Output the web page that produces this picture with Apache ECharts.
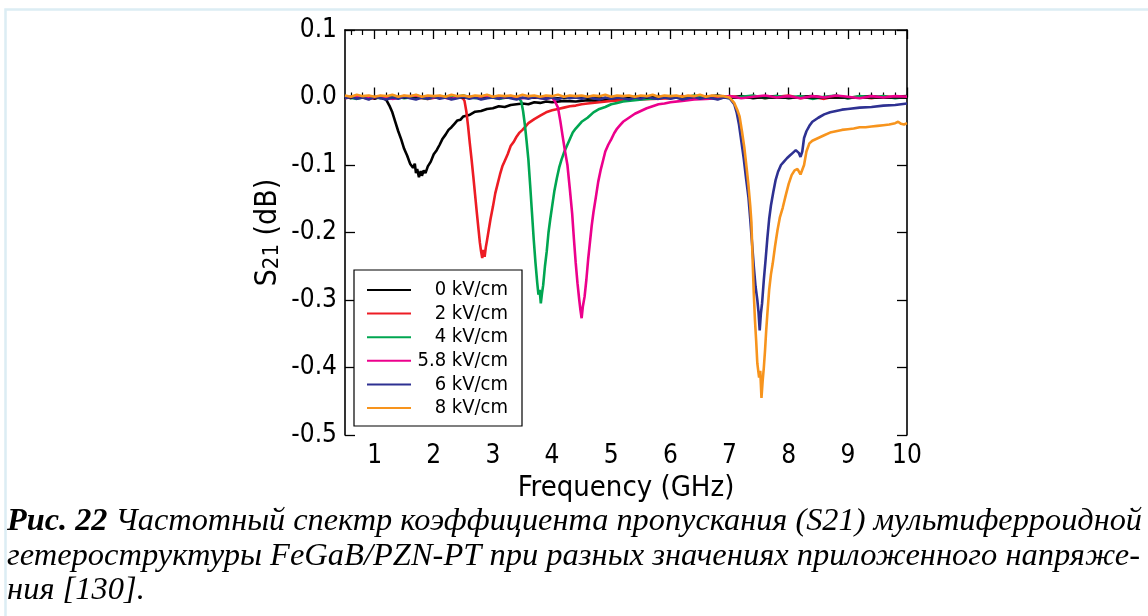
<!DOCTYPE html>
<html>
<head>
<meta charset="utf-8">
<script src="https://cdn.jsdelivr.net/npm/echarts@6/dist/echarts.min.js"></script>
<style>
html,body{margin:0;padding:0;background:#fff;}
#chart{width:1148px;height:616px;}
</style>
</head>
<body>
<div id="chart"></div>
<script>
// ---- data (frequency GHz, S21 dB) ----
const seriesNames = ['0 kV/cm', '2 kV/cm', '4 kV/cm', '5.8 kV/cm', '6 kV/cm', '8 kV/cm'];
const seriesColors = ['#000000', '#ed1c24', '#00a651', '#ec008c', '#2e3192', '#f7941d'];
const xMajorTicks = [1, 2, 3, 4, 5, 6, 7, 8, 9, 10];
const xMinorTicks = [0.6, 0.8, 1.2, 1.4, 1.6, 1.8, 2.2, 2.4, 2.6, 2.8, 3.2, 3.4, 3.6, 3.8, 4.2, 4.4, 4.6, 4.8,
  5.2, 5.4, 5.6, 5.8, 6.2, 6.4, 6.6, 6.8, 7.2, 7.4, 7.6, 7.8, 8.2, 8.4, 8.6, 8.8, 9.2, 9.4, 9.6, 9.8];

const s21_0kV = [[0.5,0.002],[0.6,-0.001],[0.7,0.003],[0.8,0.000],[0.9,0.002],[1.0,-0.002],[1.1,0.001],[1.15,-0.001],[1.2,-0.004],[1.25,-0.012],[1.3,-0.022],[1.35,-0.036],[1.4,-0.05],[1.45,-0.062],[1.5,-0.076],[1.55,-0.086],[1.6,-0.098],[1.65,-0.104],[1.68,-0.098],[1.7,-0.112],[1.72,-0.106],[1.75,-0.118],[1.78,-0.109],[1.8,-0.116],[1.83,-0.108],[1.86,-0.112],[1.9,-0.102],[1.95,-0.095],[2.0,-0.084],[2.05,-0.078],[2.1,-0.07],[2.15,-0.061],[2.2,-0.055],[2.25,-0.048],[2.3,-0.044],[2.35,-0.039],[2.4,-0.034],[2.45,-0.033],[2.5,-0.028],[2.6,-0.026],[2.7,-0.021],[2.8,-0.02],[2.9,-0.017],[3.0,-0.016],[3.1,-0.013],[3.2,-0.014],[3.3,-0.011],[3.4,-0.01],[3.5,-0.009],[3.6,-0.01],[3.7,-0.007],[3.8,-0.008],[3.9,-0.006],[4.0,-0.007],[4.2,-0.005],[4.4,-0.006],[4.6,-0.004],[4.8,-0.005],[5.0,-0.003],[5.2,-0.002],[5.4,0.001],[5.6,-0.001],[5.8,0.002],[6.0,0.000],[6.2,0.002],[6.4,-0.001],[6.6,0.001],[6.8,0.003],[7.0,0.000],[7.2,0.002],[7.4,-0.001],[7.6,0.001],[7.8,0.002],[8.0,-0.001],[8.2,0.001],[8.4,0.002],[8.6,0.000],[8.8,0.002],[9.0,-0.001],[9.2,0.001],[9.4,0.002],[9.6,0.000],[9.8,0.001],[10.0,0.002]];

const s21_2kV = [[0.5,-0.001],[0.7,0.002],[0.9,-0.002],[1.1,0.001],[1.3,-0.001],[1.5,0.002],[1.7,0.000],[1.9,-0.002],[2.1,0.001],[2.3,-0.001],[2.45,0.001],[2.5,-0.002],[2.52,-0.005],[2.55,-0.02],[2.58,-0.042],[2.61,-0.068],[2.64,-0.092],[2.67,-0.118],[2.7,-0.145],[2.73,-0.172],[2.76,-0.198],[2.78,-0.215],[2.8,-0.228],[2.82,-0.238],[2.84,-0.226],[2.86,-0.236],[2.88,-0.222],[2.9,-0.212],[2.93,-0.196],[2.96,-0.18],[3.0,-0.162],[3.04,-0.142],[3.08,-0.128],[3.12,-0.114],[3.16,-0.102],[3.2,-0.094],[3.25,-0.084],[3.3,-0.072],[3.35,-0.066],[3.4,-0.058],[3.45,-0.052],[3.5,-0.048],[3.55,-0.043],[3.6,-0.038],[3.7,-0.032],[3.8,-0.027],[3.9,-0.022],[4.0,-0.019],[4.1,-0.017],[4.2,-0.015],[4.3,-0.013],[4.4,-0.012],[4.5,-0.01],[4.6,-0.009],[4.8,-0.007],[5.0,-0.005],[5.2,-0.004],[5.4,-0.003],[5.7,-0.002],[6.0,-0.001],[6.2,0.002],[6.4,-0.001],[6.6,0.001],[6.8,-0.002],[7.0,0.002],[7.2,0.000],[7.4,0.002],[7.6,-0.001],[7.8,0.001],[8.0,0.003],[8.2,-0.001],[8.4,0.001],[8.6,-0.002],[8.8,0.002],[9.0,0.000],[9.2,0.001],[9.4,-0.001],[9.6,0.002],[9.8,0.000],[10.0,0.001]];

const s21_4kV = [[0.5,0.001],[0.7,-0.002],[0.9,0.002],[1.1,-0.001],[1.3,0.003],[1.5,-0.001],[1.7,0.001],[1.9,-0.002],[2.1,0.002],[2.3,0.000],[2.5,0.003],[2.7,-0.001],[2.9,0.002],[3.1,-0.002],[3.3,0.001],[3.45,-0.002],[3.48,-0.006],[3.51,-0.02],[3.54,-0.04],[3.57,-0.065],[3.6,-0.092],[3.63,-0.13],[3.66,-0.17],[3.69,-0.21],[3.72,-0.245],[3.75,-0.275],[3.77,-0.292],[3.79,-0.285],[3.81,-0.305],[3.83,-0.29],[3.85,-0.278],[3.88,-0.25],[3.91,-0.228],[3.94,-0.2],[3.97,-0.18],[4.0,-0.162],[4.04,-0.138],[4.08,-0.12],[4.12,-0.104],[4.16,-0.092],[4.2,-0.082],[4.25,-0.072],[4.3,-0.062],[4.35,-0.052],[4.4,-0.046],[4.5,-0.036],[4.6,-0.03],[4.7,-0.022],[4.8,-0.017],[4.9,-0.014],[5.0,-0.01],[5.1,-0.008],[5.2,-0.006],[5.4,-0.004],[5.6,-0.002],[5.8,-0.001],[6.0,0.002],[6.2,-0.001],[6.4,0.003],[6.6,0.000],[6.8,0.002],[7.0,-0.001],[7.2,0.001],[7.4,0.003],[7.6,-0.001],[7.8,0.002],[8.0,0.000],[8.2,0.002],[8.4,-0.002],[8.6,0.001],[8.8,0.003],[9.0,-0.001],[9.2,0.002],[9.4,0.000],[9.6,0.002],[9.8,-0.001],[10.0,0.001]];

const s21_5p8kV = [[0.5,0.000],[0.7,0.002],[0.9,-0.001],[1.1,0.002],[1.3,-0.002],[1.5,0.001],[1.7,0.003],[1.9,-0.001],[2.1,0.001],[2.3,-0.002],[2.5,0.002],[2.7,0.000],[2.9,0.003],[3.1,-0.001],[3.3,0.002],[3.5,-0.001],[3.7,0.001],[3.9,-0.002],[4.0,0.000],[4.05,-0.006],[4.1,-0.015],[4.14,-0.035],[4.18,-0.058],[4.22,-0.08],[4.26,-0.1],[4.3,-0.135],[4.34,-0.172],[4.37,-0.21],[4.4,-0.245],[4.43,-0.275],[4.46,-0.3],[4.48,-0.315],[4.5,-0.327],[4.52,-0.31],[4.55,-0.295],[4.58,-0.27],[4.61,-0.24],[4.64,-0.215],[4.67,-0.19],[4.7,-0.17],[4.74,-0.148],[4.78,-0.125],[4.82,-0.108],[4.86,-0.094],[4.9,-0.08],[4.95,-0.07],[5.0,-0.062],[5.05,-0.053],[5.1,-0.046],[5.15,-0.041],[5.2,-0.036],[5.3,-0.03],[5.4,-0.024],[5.5,-0.02],[5.6,-0.016],[5.7,-0.013],[5.8,-0.01],[5.9,-0.009],[6.0,-0.007],[6.2,-0.005],[6.4,-0.003],[6.6,-0.002],[6.8,-0.001],[7.0,0.002],[7.2,-0.001],[7.4,0.001],[7.6,0.003],[7.8,0.000],[8.0,0.002],[8.2,-0.001],[8.4,0.002],[8.6,0.000],[8.8,0.003],[9.0,0.001],[9.2,-0.001],[9.4,0.002],[9.6,0.000],[9.8,0.002],[10.0,0.001]];

const s21_6kV = [[0.5,-0.001],[0.6,0.001],[0.7,-0.002],[0.8,0.000],[0.9,-0.003],[1.0,0.001],[1.1,-0.001],[1.2,-0.003],[1.3,0.000],[1.4,-0.002],[1.5,0.001],[1.6,-0.001],[1.7,-0.003],[1.8,0.000],[1.9,-0.002],[2.0,0.001],[2.1,-0.002],[2.2,0.000],[2.3,-0.003],[2.4,-0.001],[2.5,0.001],[2.6,-0.002],[2.7,0.000],[2.8,-0.003],[2.9,-0.001],[3.0,0.000],[3.1,-0.002],[3.2,0.001],[3.3,-0.001],[3.4,-0.003],[3.5,0.000],[3.6,-0.002],[3.7,0.001],[3.8,-0.001],[3.9,-0.002],[4.0,0.000],[4.1,-0.003],[4.2,0.001],[4.3,-0.001],[4.4,0.000],[4.5,-0.002],[4.6,0.001],[4.7,-0.001],[4.8,-0.003],[4.9,0.000],[5.0,-0.002],[5.1,0.000],[5.2,-0.001],[5.3,-0.003],[5.4,0.000],[5.5,-0.002],[5.6,0.001],[5.7,-0.001],[5.8,-0.002],[5.9,0.000],[6.0,-0.002],[6.1,0.000],[6.2,-0.003],[6.3,-0.001],[6.4,0.001],[6.5,-0.002],[6.6,0.000],[6.7,-0.001],[6.8,-0.003],[6.9,0.000],[7.0,-0.001],[7.03,-0.002],[7.08,-0.01],[7.12,-0.022],[7.16,-0.04],[7.2,-0.065],[7.24,-0.09],[7.28,-0.12],[7.32,-0.148],[7.35,-0.18],[7.38,-0.215],[7.41,-0.25],[7.44,-0.28],[7.47,-0.3],[7.49,-0.318],[7.51,-0.345],[7.53,-0.32],[7.55,-0.305],[7.58,-0.27],[7.61,-0.24],[7.64,-0.208],[7.67,-0.18],[7.7,-0.16],[7.74,-0.14],[7.78,-0.122],[7.82,-0.11],[7.87,-0.1],[7.92,-0.095],[7.97,-0.09],[8.02,-0.086],[8.07,-0.082],[8.12,-0.078],[8.17,-0.082],[8.2,-0.088],[8.23,-0.08],[8.26,-0.06],[8.3,-0.05],[8.35,-0.042],[8.4,-0.036],[8.5,-0.03],[8.6,-0.025],[8.7,-0.022],[8.8,-0.02],[8.9,-0.018],[9.0,-0.017],[9.2,-0.015],[9.4,-0.014],[9.6,-0.012],[9.8,-0.011],[10.0,-0.009]];

const s21_8kV = [[0.5,0.003],[0.6,0.001],[0.7,0.004],[0.8,0.002],[0.9,0.003],[1.0,0.001],[1.1,0.003],[1.2,0.002],[1.3,0.004],[1.4,0.001],[1.5,0.003],[1.6,0.002],[1.7,0.004],[1.8,0.001],[1.9,0.003],[2.0,0.002],[2.1,0.003],[2.2,0.001],[2.3,0.004],[2.4,0.002],[2.5,0.003],[2.6,0.001],[2.7,0.003],[2.8,0.002],[2.9,0.004],[3.0,0.001],[3.1,0.003],[3.2,0.002],[3.3,0.003],[3.4,0.001],[3.5,0.004],[3.6,0.002],[3.7,0.003],[3.8,0.001],[3.9,0.003],[4.0,0.002],[4.1,0.004],[4.2,0.001],[4.3,0.003],[4.4,0.002],[4.5,0.003],[4.6,0.001],[4.7,0.003],[4.8,0.002],[4.9,0.004],[5.0,0.001],[5.1,0.003],[5.2,0.002],[5.3,0.003],[5.4,0.001],[5.5,0.003],[5.6,0.002],[5.7,0.004],[5.8,0.001],[5.9,0.003],[6.0,0.002],[6.1,0.003],[6.2,0.001],[6.3,0.003],[6.4,0.002],[6.5,0.004],[6.6,0.001],[6.7,0.003],[6.8,0.002],[6.9,0.002],[7.0,0.000],[7.03,-0.002],[7.08,-0.008],[7.13,-0.018],[7.17,-0.028],[7.21,-0.05],[7.25,-0.074],[7.29,-0.105],[7.32,-0.13],[7.35,-0.16],[7.37,-0.185],[7.39,-0.24],[7.41,-0.29],[7.43,-0.33],[7.45,-0.36],[7.47,-0.394],[7.5,-0.415],[7.52,-0.405],[7.54,-0.445],[7.56,-0.42],[7.58,-0.4],[7.6,-0.375],[7.62,-0.345],[7.64,-0.32],[7.67,-0.285],[7.7,-0.262],[7.73,-0.246],[7.77,-0.22],[7.81,-0.197],[7.85,-0.178],[7.9,-0.163],[7.95,-0.145],[8.0,-0.128],[8.05,-0.115],[8.1,-0.108],[8.15,-0.106],[8.2,-0.114],[8.23,-0.116],[8.26,-0.1],[8.3,-0.08],[8.35,-0.068],[8.4,-0.064],[8.5,-0.06],[8.6,-0.056],[8.7,-0.052],[8.8,-0.05],[8.9,-0.048],[9.0,-0.047],[9.1,-0.046],[9.2,-0.044],[9.3,-0.044],[9.4,-0.043],[9.5,-0.042],[9.6,-0.041],[9.7,-0.04],[9.8,-0.038],[9.85,-0.036],[9.9,-0.039],[9.95,-0.04],[10.0,-0.038]];

const seriesData = [s21_0kV, s21_2kV, s21_4kV, s21_5p8kV, s21_6kV, s21_8kV];

const captionLine1Bold = 'Рис. 22';
const captionLine1 = ' Частотный спектр коэффициента пропускания (S21) мультиферроидной';
const captionLine2 = 'гетероструктуры FeGaB/PZN-PT при разных значениях приложенного напряже-';
const captionLine3 = 'ния [130].';

// ---- chart ----
const sansNarrow = "'Liberation Sans Narrow', 'DejaVu Sans Condensed', 'Liberation Sans', Arial, sans-serif";
const serif = "'Liberation Serif', 'Times New Roman', serif";
const chart = echarts.init(document.getElementById('chart'), null, {renderer: 'canvas'});

const capFontSize = 32;
function measure(text, weight) {
  const c = document.createElement('canvas').getContext('2d');
  c.font = 'italic ' + weight + ' ' + capFontSize + 'px ' + serif;
  return c.measureText(text).width;
}
const w1 = measure(captionLine1Bold, 'bold') + measure(captionLine1, 'normal');
const w2 = measure(captionLine2, 'normal');
const sx1 = 1135 / w1;
const sx2 = 1133 / w2;

const axisCommon = {
  type: 'value', min: 0.5, max: 10,
  splitLine: {show: false}
};

const option = {
  animation: false,
  backgroundColor: '#ffffff',
  grid: {left: 345, right: 241, top: 30, bottom: 181, containLabel: false},
  legend: {
    data: seriesNames,
    orient: 'vertical',
    left: 354, top: 270,
    padding: [10, 14, 8, 13],
    itemWidth: 44, itemHeight: 2, itemGap: 3.6,
    icon: 'rect',
    borderColor: '#000', borderWidth: 1.2,
    backgroundColor: '#fff',
    formatter: n => '{a|' + n + '}',
    textStyle: {
      color: '#000', fontFamily: sansNarrow, fontSize: 20,
      rich: {a: {width: 92, align: 'right', fontSize: 20, lineHeight: 21.3, fontFamily: sansNarrow, color: '#000'}}
    }
  },
  xAxis: [
    Object.assign({}, axisCommon, {
      position: 'bottom',
      name: 'Frequency (GHz)', nameLocation: 'middle', nameGap: 39,
      nameTextStyle: {fontFamily: sansNarrow, fontSize: 29, color: '#000'},
      axisLine: {show: true, lineStyle: {color: '#000', width: 1.6}},
      axisTick: {show: true, inside: true, length: 10, customValues: xMajorTicks, lineStyle: {color: '#000', width: 1.3}},
      axisLabel: {show: true, customValues: xMajorTicks, margin: 8, fontFamily: sansNarrow, fontSize: 26, color: '#000'}
    }),
    Object.assign({}, axisCommon, {
      position: 'bottom',
      axisLine: {show: false},
      axisTick: {show: true, inside: true, length: 5, customValues: xMinorTicks, lineStyle: {color: '#000', width: 1.2}},
      axisLabel: {show: false}
    }),
    Object.assign({}, axisCommon, {
      position: 'top',
      axisLine: {show: true, lineStyle: {color: '#000', width: 1.6}},
      axisTick: {show: true, inside: true, length: 9, customValues: xMajorTicks, lineStyle: {color: '#000', width: 1.3}},
      axisLabel: {show: false}
    }),
    Object.assign({}, axisCommon, {
      position: 'top',
      axisLine: {show: false},
      axisTick: {show: true, inside: true, length: 5, customValues: xMinorTicks, lineStyle: {color: '#000', width: 1.2}},
      axisLabel: {show: false}
    })
  ],
  yAxis: [
    {
      type: 'value', min: -0.5, max: 0.1, interval: 0.1, position: 'left',
      name: '{s|S}{sub|21}{s| (dB)}', nameLocation: 'middle', nameGap: 62, nameRotate: 90,
      nameTextStyle: {
        fontFamily: sansNarrow, fontSize: 30, color: '#000',
        rich: {
          s: {fontFamily: sansNarrow, fontSize: 30, color: '#000'},
          sub: {fontFamily: sansNarrow, fontSize: 22, color: '#000', padding: [8, 0, 0, 0]}
        }
      },
      splitLine: {show: false},
      axisLine: {show: true, lineStyle: {color: '#000', width: 1.6}},
      axisTick: {show: true, inside: true, length: 10, lineStyle: {color: '#000', width: 1.3}},
      axisLabel: {
        margin: 8, fontFamily: sansNarrow, fontSize: 26, color: '#000',
        formatter: v => (Math.abs(v) < 1e-9 ? '0.0' : v.toFixed(1))
      }
    },
    {
      type: 'value', min: -0.5, max: 0.1, interval: 0.1, position: 'right',
      splitLine: {show: false},
      axisLine: {show: true, lineStyle: {color: '#000', width: 1.6}},
      axisTick: {show: true, inside: true, length: 10, lineStyle: {color: '#000', width: 1.3}},
      axisLabel: {show: false}
    }
  ],
  series: seriesNames.map((name, i) => {
    const s = {
      name: name, type: 'line', xAxisIndex: 0, yAxisIndex: 0,
      data: seriesData[i], showSymbol: false, symbol: 'none',
      color: seriesColors[i],
      lineStyle: {color: seriesColors[i], width: 2.6},
      z: 2 + i, silent: true
    };
    if (i === 0) {
      s.markLine = {
        silent: true, symbol: 'none', label: {show: false},
        lineStyle: {color: '#000', width: 1.6, type: 'solid'},
        data: [{yAxis: 0}]
      };
    }
    return s;
  }),
  graphic: [
    {
      type: 'rect', silent: true, z: 100,
      shape: {x: 5.5, y: 9.5, width: 1160, height: 640},
      style: {fill: null, stroke: '#dcedf4', lineWidth: 2.5}
    },
    {
      type: 'text', x: 7, y: 522, scaleX: sx1, silent: true,
      style: {
        text: '{b|' + captionLine1Bold + '}{n|' + captionLine1 + '}',
        verticalAlign: 'middle',
        rich: {
          b: {fontStyle: 'italic', fontWeight: 'bold', fontSize: capFontSize, fontFamily: serif, fill: '#000'},
          n: {fontStyle: 'italic', fontWeight: 'normal', fontSize: capFontSize, fontFamily: serif, fill: '#000'}
        }
      }
    },
    {
      type: 'text', x: 7, y: 557, scaleX: sx2, silent: true,
      style: {text: captionLine2, verticalAlign: 'middle', fontStyle: 'italic', fontSize: capFontSize, fontFamily: serif, fill: '#000'}
    },
    {
      type: 'text', x: 7, y: 591, scaleX: sx2, silent: true,
      style: {text: captionLine3, verticalAlign: 'middle', fontStyle: 'italic', fontSize: capFontSize, fontFamily: serif, fill: '#000'}
    }
  ]
};
chart.setOption(option);
</script>
</body>
</html>
